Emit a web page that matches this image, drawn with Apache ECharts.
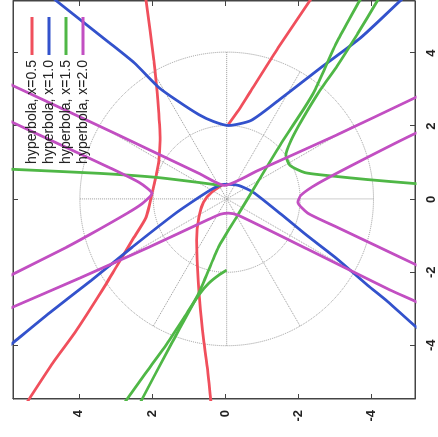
<!DOCTYPE html>
<html>
<head>
<meta charset="utf-8">
<script src="https://cdn.jsdelivr.net/npm/echarts@6/dist/echarts.min.js"></script>
<style>
  html, body { margin: 0; padding: 0; background: #fff; overflow: hidden; }
  /* the plot is laid out upright and turned a quarter turn to the left */
  #chart {
    position: absolute; left: 0; top: 0;
    width: 437px; height: 438px;
    transform-origin: 0 0;
    transform: translate(0, 437px) rotate(-90deg);
  }
</style>
</head>
<body>
<div id="chart"></div>
<script>
// Series names shown in the key
const seriesNames = ['hyperbola, x=0.5', 'hyperbola, x=1.0', 'hyperbola, x=1.5', 'hyperbola, x=2.0'];

// Tick values on both axes
const tickValues = [-4, -2, 0, 2, 4];

// Curve pieces, each point is [x, y]
const hyperbola05 = [
  [[5.71, 2.19], [5.43, 2.16], [3.80, 1.95], [2.70, 1.84], [1.61, 1.78], [1.06, 1.81], [0.65, 1.89],
   [0.16, 2.00], [-0.49, 2.16], [-1.12, 2.54], [-1.86, 2.98], [-2.49, 3.36], [-3.58, 4.06],
   [-4.48, 4.71], [-5.44, 5.34], [-5.77, 5.55]],
  [[5.71, -2.48], [5.43, -2.31], [4.15, -1.45], [2.98, -0.71], [2.43, -0.36], [2.05, -0.09]],
  [[0.41, 0.05], [0.19, 0.37], [-0.08, 0.59], [-0.49, 0.72], [-1.12, 0.78], [-1.94, 0.75],
   [-2.76, 0.70], [-3.85, 0.59], [-4.67, 0.48], [-5.47, 0.40], [-5.77, 0.37]]
];

const hyperbola10 = [
  [[5.71, 4.93], [5.43, 4.61], [4.29, 3.17], [3.74, 2.49], [3.06, 1.81], [2.70, 1.31], [2.32, 0.72],
   [2.13, 0.32], [2.02, -0.09], [2.16, -0.71], [2.70, -1.45], [3.60, -2.61], [4.42, -3.70],
   [5.43, -4.78], [5.71, -5.08]],
  [[-4.21, 6.15], [-3.93, 5.80], [-3.11, 4.80], [-2.22, 3.66], [-1.31, 2.54], [-0.38, 1.35],
   [0.05, 0.72], [0.30, 0.32], [0.41, 0.02], [0.38, -0.36], [0.19, -0.77], [-0.41, -1.53],
   [-1.01, -2.26], [-1.64, -3.07], [-2.35, -3.89], [-2.79, -4.43], [-3.47, -5.19], [-3.77, -5.57]]
];

const hyperbola15 = [
  [[0.84, 6.15], [0.82, 5.80], [0.71, 3.44], [0.60, 1.89], [0.46, 0.72], [0.38, 0.13]],
  [[5.71, -3.81], [5.43, -3.67], [4.34, -3.07], [2.98, -2.45], [2.43, -2.12], [1.53, -1.53],
   [0.49, -0.90], [-0.41, -0.36], [-1.31, 0.18], [-2.57, 0.72], [-3.99, 1.49], [-5.47, 2.27],
   [-5.77, 2.43]],
  [[5.71, -4.33], [5.43, -4.16], [4.53, -3.62], [3.66, -3.07], [2.98, -2.59], [2.21, -2.12],
   [1.61, -1.80], [1.20, -1.66], [0.93, -1.77], [0.73, -2.18], [0.63, -2.99], [0.54, -3.89],
   [0.43, -5.19], [0.41, -5.57]],
  [[-1.94, -0.04], [-2.08, 0.18], [-2.30, 0.45], [-2.62, 0.72], [-3.25, 1.13], [-4.07, 1.67],
   [-4.78, 2.19], [-5.47, 2.68], [-5.77, 2.90]]
];

const hyperbola20 = [
  [[3.27, 6.15], [3.11, 5.80], [1.75, 2.90], [0.71, 0.72], [0.38, 0.02], [0.79, -0.90],
   [1.77, -3.07], [2.78, -5.19], [2.95, -5.57]],
  [[-3.09, 6.15], [-2.95, 5.80], [-2.16, 3.98], [-1.31, 2.08], [-0.55, 0.45], [-0.41, 0.13],
   [-0.38, -0.09], [-0.44, -0.36], [-1.37, -2.26], [-2.49, -4.52], [-2.79, -5.19], [-2.98, -5.57]],
  [[2.27, 6.15], [2.10, 5.80], [1.50, 4.52], [0.87, 3.17], [0.46, 2.35], [0.16, 2.00],
   [-0.08, 2.22], [-0.30, 2.54], [-0.82, 3.44], [-1.31, 4.33], [-2.05, 5.80], [-2.24, 6.15]],
  [[1.91, -5.57], [1.80, -5.19], [1.01, -3.62], [0.43, -2.53], [0.11, -2.07], [-0.08, -1.99],
   [-0.38, -2.26], [-0.77, -3.07], [-1.29, -4.16], [-1.78, -5.19], [-1.97, -5.57]]
];

const curveSets = [hyperbola05, hyperbola10, hyperbola15, hyperbola20];
const lineColors = ['#f04f5c', '#3352cc', '#4fb746', '#c24fc2'];

const X_RANGE = [-5.47, 5.43];
const Y_RANGE = [-5.19, 5.80];

const series = [];
curveSets.forEach((pieces, i) => {
  pieces.forEach(piece => {
    series.push({
      type: 'line',
      name: seriesNames[i],
      data: piece,
      symbol: 'none',
      showSymbol: false,
      smooth: 0.2,
      clip: true,
      silent: true,
      lineStyle: { color: lineColors[i], width: 2.8 },
      itemStyle: { color: lineColors[i] }
    });
  });
});

const labelStyle = { fontFamily: 'Liberation Sans, Arial, sans-serif', fontSize: 13, fontWeight: 'bold', color: '#222' };
const frameLine = { show: true, onZero: false, lineStyle: { color: '#444', width: 1 } };

function valueAxis(range, position, showLabels, margin) {
  return {
    type: 'value',
    position: position,
    min: range[0],
    max: range[1],
    axisLine: frameLine,
    axisTick: { show: true, inside: true, length: 5, customValues: tickValues, lineStyle: { color: '#444' } },
    axisLabel: Object.assign({ show: showLabels, customValues: tickValues, margin: margin }, labelStyle),
    splitLine: { show: false }
  };
}

const chart = echarts.init(document.getElementById('chart'), null, { renderer: 'canvas' });
chart.setOption({
  animation: false,
  backgroundColor: '#fff',
  grid: { left: 38, right: 1, top: 13, bottom: 20, show: true, borderColor: '#444', borderWidth: 1 },
  xAxis: [valueAxis(X_RANGE, 'bottom', true, 10), valueAxis(X_RANGE, 'top', false, 8)],
  yAxis: [valueAxis(Y_RANGE, 'left', true, 11), valueAxis(Y_RANGE, 'right', false, 8)],
  polar: { center: [238.1, 226.7], radius: 146.8 },
  radiusAxis: {
    min: 0, max: 4, interval: 2,
    axisLine: { show: false }, axisTick: { show: false }, axisLabel: { show: false },
    splitLine: { show: true, lineStyle: { type: 'dotted', color: '#9a9a9a', width: 1 } }
  },
  angleAxis: {
    min: 0, max: 360, interval: 30, startAngle: 0,
    axisLine: { show: false }, axisTick: { show: false }, axisLabel: { show: false },
    splitLine: { show: true, lineStyle: { type: 'dotted', color: '#9a9a9a', width: 1 } }
  },
  legend: {
    data: seriesNames,
    orient: 'vertical',
    align: 'right',
    right: 12,
    top: 20,
    icon: 'rect',
    itemWidth: 38,
    itemHeight: 3,
    itemGap: 3,
    selectedMode: false,
    textStyle: { fontFamily: 'Liberation Sans, Arial, sans-serif', fontSize: 14, lineHeight: 14, color: '#222' }
  },
  series: series
});
</script>
</body>
</html>
